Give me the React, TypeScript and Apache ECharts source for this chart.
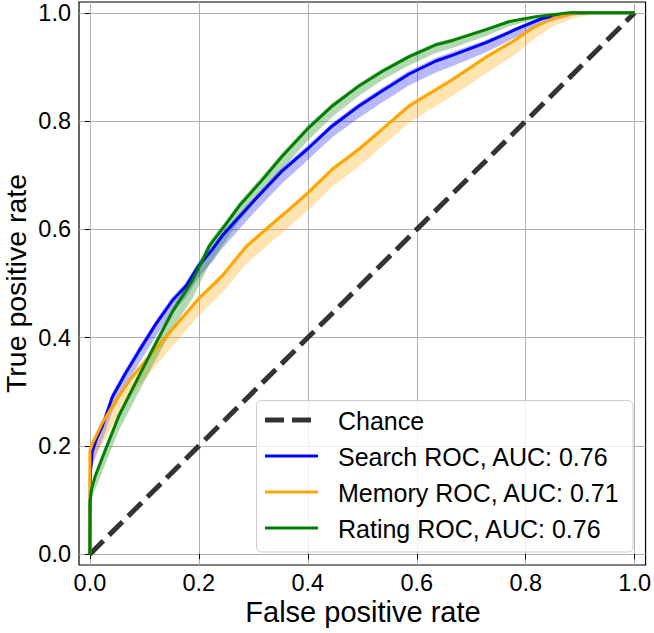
import React, { useEffect, useRef } from 'react';
import * as echarts from 'echarts';

// Tick positions shared by both axes
const tickValues = [0, 0.2, 0.4, 0.6, 0.8, 1.0];

// Chance diagonal
const chanceFpr = [0, 1];
const chanceTpr = [0, 1];

// Search ROC (blue)
const searchFpr = [0, 0.001, 0.004, 0.012, 0.023, 0.041, 0.066, 0.09, 0.121, 0.151, 0.176, 0.199, 0.225, 0.243, 0.274, 0.305, 0.353, 0.399, 0.445, 0.494, 0.537, 0.586, 0.635, 0.666, 0.727, 0.788, 0.831, 0.887, 0.94, 1.0];
const searchTpr = [0, 0.15, 0.188, 0.213, 0.237, 0.29, 0.335, 0.375, 0.425, 0.468, 0.495, 0.532, 0.563, 0.588, 0.623, 0.657, 0.708, 0.748, 0.791, 0.828, 0.856, 0.887, 0.911, 0.922, 0.945, 0.972, 0.99, 1.0, 1.0, 1.0];
const searchLow = [0, 0.12, 0.16, 0.185, 0.21, 0.262, 0.31, 0.352, 0.402, 0.446, 0.474, 0.51, 0.54, 0.565, 0.6, 0.635, 0.685, 0.727, 0.77, 0.806, 0.835, 0.866, 0.89, 0.902, 0.927, 0.958, 0.98, 0.995, 1.0, 1.0];
const searchHigh = [0, 0.16, 0.195, 0.22, 0.245, 0.298, 0.343, 0.383, 0.432, 0.475, 0.502, 0.54, 0.57, 0.595, 0.63, 0.664, 0.715, 0.755, 0.797, 0.834, 0.862, 0.893, 0.917, 0.928, 0.95, 0.976, 0.993, 1.0, 1.0, 1.0];

// Memory ROC (orange)
const memoryFpr = [0, 0, 0.004, 0.023, 0.053, 0.0735, 0.096, 0.151, 0.199, 0.243, 0.286, 0.323, 0.366, 0.399, 0.445, 0.494, 0.537, 0.586, 0.635, 0.666, 0.727, 0.776, 0.813, 0.85, 0.893, 0.95, 1.0];
const memoryTpr = [0, 0.19, 0.203, 0.243, 0.292, 0.322, 0.35, 0.415, 0.471, 0.514, 0.567, 0.6, 0.637, 0.666, 0.711, 0.748, 0.785, 0.828, 0.858, 0.877, 0.918, 0.947, 0.972, 0.99, 1.0, 1.0, 1.0];
const memoryLow = [0, 0.15, 0.165, 0.205, 0.258, 0.29, 0.318, 0.383, 0.44, 0.483, 0.535, 0.568, 0.605, 0.634, 0.679, 0.716, 0.754, 0.797, 0.828, 0.847, 0.888, 0.92, 0.95, 0.975, 0.992, 1.0, 1.0];
const memoryHigh = [0, 0.195, 0.208, 0.248, 0.297, 0.327, 0.355, 0.42, 0.476, 0.52, 0.572, 0.605, 0.642, 0.671, 0.716, 0.753, 0.79, 0.833, 0.863, 0.882, 0.922, 0.95, 0.975, 0.992, 1.0, 1.0, 1.0];

// Rating ROC (green)
const ratingFpr = [0, 0, 0.003, 0.01, 0.029, 0.053, 0.084, 0.115, 0.151, 0.188, 0.219, 0.25, 0.274, 0.311, 0.353, 0.399, 0.445, 0.494, 0.537, 0.586, 0.635, 0.666, 0.727, 0.77, 0.819, 0.88, 0.94, 1.0];
const ratingTpr = [0, 0.096, 0.12, 0.145, 0.194, 0.255, 0.317, 0.378, 0.447, 0.505, 0.569, 0.61, 0.643, 0.685, 0.735, 0.785, 0.828, 0.865, 0.892, 0.919, 0.941, 0.949, 0.969, 0.984, 0.993, 1.0, 1.0, 1.0];
const ratingLow = [0, 0.08, 0.1, 0.12, 0.168, 0.228, 0.288, 0.348, 0.415, 0.472, 0.535, 0.58, 0.615, 0.66, 0.712, 0.763, 0.808, 0.847, 0.876, 0.903, 0.926, 0.935, 0.957, 0.975, 0.988, 0.998, 1.0, 1.0];
const ratingHigh = [0, 0.1, 0.125, 0.15, 0.2, 0.262, 0.323, 0.385, 0.455, 0.513, 0.577, 0.617, 0.65, 0.692, 0.742, 0.791, 0.834, 0.87, 0.897, 0.923, 0.945, 0.953, 0.972, 0.986, 0.995, 1.0, 1.0, 1.0];

const legendLabels = ['Chance', 'Search ROC, AUC: 0.76', 'Memory ROC, AUC: 0.71', 'Rating ROC, AUC: 0.76'];
const xAxisTitle = 'False positive rate';
const yAxisTitle = 'True positive rate';

const FONT = '"Liberation Sans", Arial, Helvetica, sans-serif';

function zip(xs: number[], ys: number[]) {
  return xs.map((x, i) => [x, ys[i]]);
}

function bandSeries(name: string, fpr: number[], lo: number[], hi: number[], fill: string) {
  return {
    type: 'custom',
    name,
    silent: true,
    data: fpr.map((x, i) => [x, lo[i], hi[i]]),
    encode: { x: 0, y: [1, 2] },
    renderItem: (params: any, api: any) => {
      if (params.dataIndex !== 0) return null;
      const upper = fpr.map((x, i) => api.coord([x, hi[i]]));
      const lower = fpr.map((x, i) => api.coord([x, lo[i]])).reverse();
      return {
        type: 'polygon',
        shape: { points: upper.concat(lower) },
        style: { fill, stroke: 'none' },
      };
    },
  };
}

function lineSeries(name: string, fpr: number[], tpr: number[], color: string) {
  return {
    type: 'line',
    name,
    data: zip(fpr, tpr),
    showSymbol: false,
    symbol: 'none',
    lineStyle: { color, width: 3 },
    itemStyle: { color },
  };
}

function axis(isX: boolean) {
  return {
    type: 'value',
    min: -0.02,
    max: 1.02,
    axisLine: { show: false },
    axisTick: {
      show: true,
      customValues: tickValues,
      length: 5,
      lineStyle: { color: '#000', width: 1 },
    },
    axisLabel: {
      customValues: tickValues,
      formatter: (v: number) => v.toFixed(1),
      fontSize: 23.5,
      fontFamily: FONT,
      color: '#000',
      margin: isX ? 6 : 8,
    },
    splitLine: {
      show: true,
      customValues: tickValues,
      lineStyle: { color: '#b0b0b0', width: 1 },
    },
  };
}

export default function App() {
  const ref = useRef<HTMLDivElement>(null);

  useEffect(() => {
    if (!ref.current) return;
    const chart = echarts.init(ref.current, null, { renderer: 'svg' });

    const legendColors = ['#333333', '#0000ff', '#ffa500', '#008000'];
    const legendX = 256.5;
    const legendY = 400.5;
    const legendW = 376.5;
    const legendH = 151.5;
    const rowY = [420, 456, 492, 528];

    const legendElements: any[] = [
      {
        type: 'rect',
        z: 100,
        shape: { x: legendX, y: legendY, width: legendW, height: legendH, r: 5 },
        style: { fill: 'rgba(255,255,255,0.8)', stroke: '#cccccc', lineWidth: 1 },
      },
    ];
    legendLabels.forEach((label, i) => {
      legendElements.push({
        type: 'line',
        z: 101,
        shape: { x1: 265, y1: rowY[i], x2: 318, y2: rowY[i] },
        style: {
          stroke: legendColors[i],
          lineWidth: i === 0 ? 5 : 3,
          lineDash: i === 0 ? [19, 8] : null,
        },
      });
      legendElements.push({
        type: 'text',
        z: 101,
        style: {
          text: label,
          x: 338,
          y: rowY[i] + 1,
          fill: '#000',
          fontSize: 25,
          fontFamily: FONT,
          align: 'left',
          verticalAlign: 'middle',
        },
      });
    });

    const option: any = {
      animation: false,
      backgroundColor: '#ffffff',
      grid: {
        left: 79,
        right: 7,
        top: 2,
        bottom: 68,
        show: true,
        borderColor: '#000',
        borderWidth: 1.2,
        backgroundColor: 'transparent',
      },
      xAxis: axis(true),
      yAxis: axis(false),
      series: [
        {
          type: 'line',
          name: legendLabels[0],
          data: zip(chanceFpr, chanceTpr),
          showSymbol: false,
          symbol: 'none',
          lineStyle: { color: '#333333', width: 5, type: [19, 8] },
        },
        bandSeries('Search band', searchFpr, searchLow, searchHigh, 'rgba(0,0,255,0.28)'),
        lineSeries(legendLabels[1], searchFpr, searchTpr, '#0000ff'),
        bandSeries('Memory band', memoryFpr, memoryLow, memoryHigh, 'rgba(255,165,0,0.3)'),
        lineSeries(legendLabels[2], memoryFpr, memoryTpr, '#ffa500'),
        bandSeries('Rating band', ratingFpr, ratingLow, ratingHigh, 'rgba(0,128,0,0.3)'),
        lineSeries(legendLabels[3], ratingFpr, ratingTpr, '#008000'),
      ],
      graphic: {
        elements: [
          {
            type: 'text',
            z: 100,
            style: {
              text: xAxisTitle,
              x: 363,
              y: 612,
              fill: '#000',
              fontSize: 29,
              fontFamily: FONT,
              align: 'center',
              verticalAlign: 'middle',
            },
          },
          {
            type: 'text',
            z: 100,
            x: 16,
            y: 283.5,
            rotation: Math.PI / 2,
            style: {
              text: yAxisTitle,
              x: 0,
              y: 0,
              fill: '#000',
              fontSize: 28.5,
              fontFamily: FONT,
              align: 'center',
              verticalAlign: 'middle',
            },
          },
          ...legendElements,
        ],
      },
    };

    chart.setOption(option);
    return () => chart.dispose();
  }, []);

  return (
    <div
      ref={ref}
      style={{ position: 'fixed', left: 0, top: 0, width: 654, height: 633, background: '#fff' }}
    />
  );
}
